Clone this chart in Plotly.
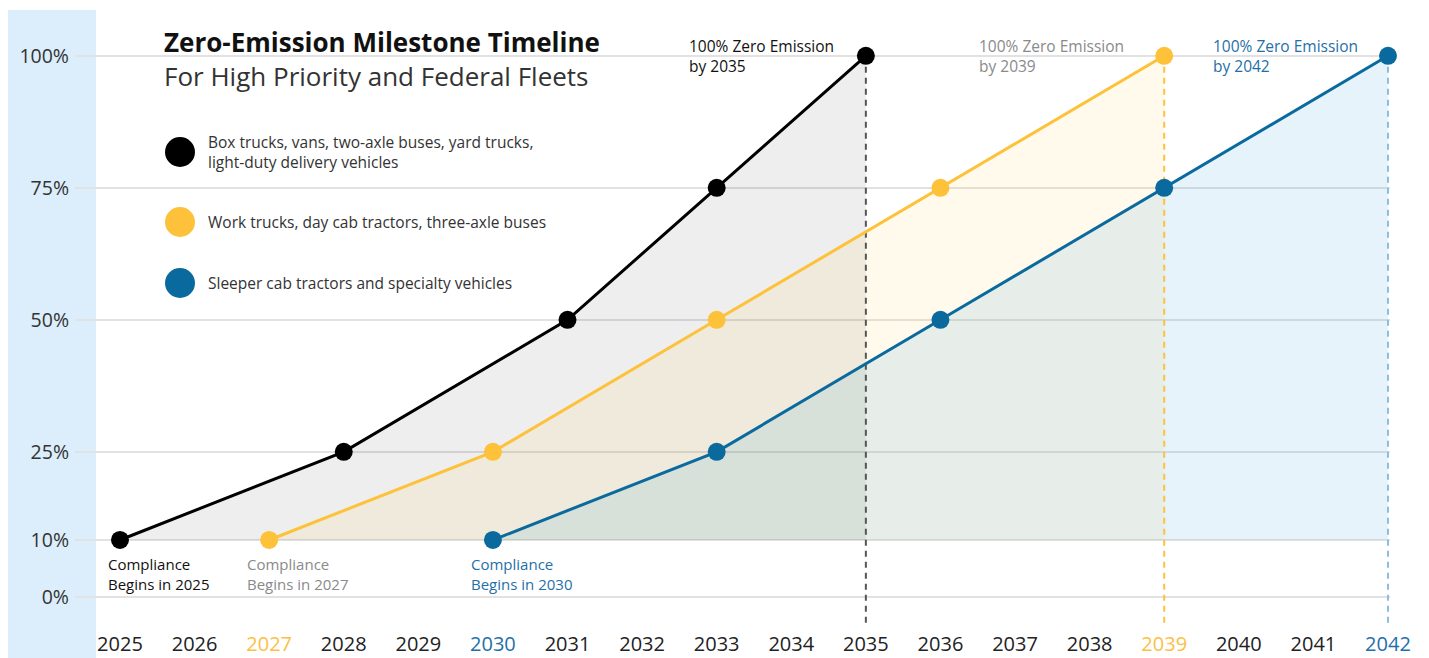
import numpy as np
import plotly.graph_objects as go

# ---------------- data ----------------
YEARS = list(range(2025, 2043))
X_TICK_LABELS = [str(y) for y in YEARS]

black_years = [2025, 2028, 2031, 2033, 2035]
black_pct = [10, 25, 50, 75, 100]
yellow_years = [2027, 2030, 2033, 2036, 2039]
yellow_pct = [10, 25, 50, 75, 100]
blue_years = [2030, 2033, 2036, 2039, 2042]
blue_pct = [10, 25, 50, 75, 100]

title_text = "Zero-Emission Milestone Timeline"
subtitle_text = "For High Priority and Federal Fleets"
series_labels = [
    "Box trucks, vans, two-axle buses, yard trucks,<br>light-duty delivery vehicles",
    "Work trucks, day cab tractors, three-axle buses",
    "Sleeper cab tractors and specialty vehicles",
]
start_labels = ["Compliance<br>Begins in 2025", "Compliance<br>Begins in 2027", "Compliance<br>Begins in 2030"]
end_labels = ["100% Zero Emission<br>by 2035", "100% Zero Emission<br>by 2039", "100% Zero Emission<br>by 2042"]

Y_TICKS = [0, 10, 25, 50, 75, 100]
Y_TICK_LABELS = ["0%", "10%", "25%", "50%", "75%", "100%"]

# axis scale (non-uniform spacing of the percentage ticks)
Y_SCALE_POS = [0, 10.8, 27.5, 52.5, 77.5, 102.5]


def ypos(v):
    return np.interp(v, Y_TICKS, Y_SCALE_POS)


# ---------------- style ----------------
W, H = 1429, 658
ML, MR, MT, MB = 75, 39, 0, 30
PW, PH = W - ML - MR, H - MT - MB
X_RANGE = [2024.397, 2042.027]
Y_RANGE = [-5.87, 113.07]

BLACK = "#000000"
YELLOW = "#fdc13a"
BLUE = "#0a6a9e"
line_colors = [BLACK, YELLOW, BLUE]
fill_colors = ["rgba(0,0,0,0.065)", "rgba(255,205,60,0.10)", "rgba(20,140,220,0.10)"]
dash_colors = ["#555555", "#fdc13a", "#8dbedb"]
label_colors = ["#111111", "#8a8a8a", "#1f6fa8"]
tick_color_map = {2027: "#fbbf45", 2030: "#1f6fa8", 2039: "#fbbf45", 2042: "#1f6fa8"}
FONT = "Open Sans"


def pxx(px):
    return (px - ML) / PW


def pxy(py):
    return (H - MB - py) / PH


series = [
    (black_years, black_pct),
    (yellow_years, yellow_pct),
    (blue_years, blue_pct),
]

fig = go.Figure()

# fills down to the 10% line
for (xs, ys), fc in zip(series, fill_colors):
    fx = list(xs) + [xs[-1], xs[0]]
    fy = list(ypos(ys)) + [ypos(ys[0]), ypos(ys[0])]
    fig.add_trace(go.Scatter(x=fx, y=fy, fill="toself", fillcolor=fc, mode="none",
                             hoverinfo="skip", showlegend=False))

# dashed verticals at the 100% year
for (xs, ys), dc in zip(series, dash_colors):
    fig.add_trace(go.Scatter(x=[xs[-1], xs[-1]], y=[ypos(ys[-1]), Y_RANGE[0] + 0.2], mode="lines",
                             line=dict(color=dc, width=2, dash="6px,5px"),
                             hoverinfo="skip", showlegend=False))

# lines + markers
for (xs, ys), lc in zip(series, line_colors):
    fig.add_trace(go.Scatter(x=xs, y=ypos(ys), mode="lines+markers",
                             line=dict(color=lc, width=3),
                             marker=dict(color=lc, size=18),
                             cliponaxis=False, hoverinfo="skip", showlegend=False))

shapes = []
# light blue band behind y labels
shapes.append(dict(type="rect", xref="paper", yref="paper", x0=pxx(8), x1=pxx(96),
                   y0=pxy(658), y1=pxy(10), fillcolor="#dceefb", line=dict(width=0), layer="below"))
# white box behind title
shapes.append(dict(type="rect", xref="paper", yref="paper", x0=pxx(145), x1=pxx(627),
                   y0=pxy(95), y1=pxy(22), fillcolor="white", line=dict(width=0), layer="between"))
# legend dots
for cy, c in zip([152, 222, 283], line_colors):
    shapes.append(dict(type="circle", xref="paper", yref="paper", x0=pxx(165), x1=pxx(195),
                       y0=pxy(cy + 15), y1=pxy(cy - 15), fillcolor=c,
                       line=dict(width=0), layer="above"))

annotations = []


def add_text(text, x, ycenter, size, color):
    annotations.append(dict(xref="paper", yref="paper", x=pxx(x), y=pxy(ycenter), xanchor="left",
                            yanchor="middle", showarrow=False, align="left", text=text,
                            font=dict(family=FONT, size=size, color=color)))


add_text(f"<b>{title_text}</b><br><span style='color:#333333'>{subtitle_text}</span>",
         162, 58.5, 26, "#111111")
for cy, t in zip([152, 222, 283], series_labels):
    add_text(t, 206, cy, 15.5, "#333333")
for lx, t, c in zip([106, 245, 469], start_labels, label_colors):
    add_text(t, lx, 574, 15, c)
for lx, t, c in zip([687, 977, 1211], end_labels, label_colors):
    add_text(t, lx, 56, 15.5, c)

ticktext = []
for y, lab in zip(YEARS, X_TICK_LABELS):
    c = tick_color_map.get(y, "#222222")
    ticktext.append(f"<span style='color:{c}'>{lab}</span>")

fig.update_layout(
    width=W, height=H,
    margin=dict(l=ML, r=MR, t=MT, b=MB, pad=0, autoexpand=False),
    plot_bgcolor="white", paper_bgcolor="white",
    shapes=shapes, annotations=annotations,
    xaxis=dict(range=X_RANGE, tickmode="array", tickvals=YEARS, ticktext=ticktext,
               showgrid=False, zeroline=False, showline=False, ticks="", automargin=False,
               tickfont=dict(family=FONT, size=20, color="#222222"), ticklabelstandoff=2),
    yaxis=dict(range=Y_RANGE, tickmode="array", tickvals=list(ypos(Y_TICKS)), ticktext=Y_TICK_LABELS,
               showgrid=True, gridcolor="#e2e2e2", gridwidth=2, zeroline=False, showline=False,
               ticks="", automargin=False,
               tickfont=dict(family=FONT, size=19.5, color="#333333"), ticklabelstandoff=5),
    showlegend=False,
)

fig.write_html("out.html")
